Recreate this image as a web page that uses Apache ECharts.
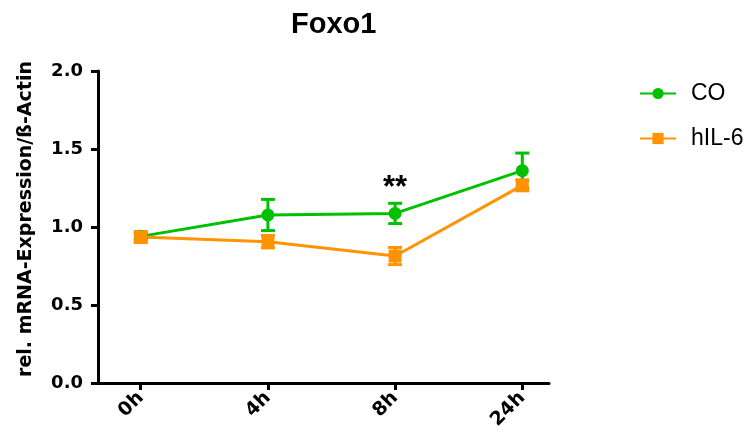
<!DOCTYPE html>
<html>
<head>
<meta charset="utf-8">
<script src="https://cdn.jsdelivr.net/npm/echarts@6/dist/echarts.min.js"></script>
<style>
  html, body { margin: 0; padding: 0; background: #fff; }
  #chart { width: 747px; height: 441px; }
</style>
</head>
<body>
<div id="chart"></div>
<script>
// Foxo1 expression time course (mean ± SEM)
const categories = ['0h', '4h', '8h', '24h'];
const coMean = [0.94, 1.077, 1.087, 1.361];
const coSem = [0.02, 0.10, 0.065, 0.113];
const il6Mean = [0.936, 0.906, 0.814, 1.267];
const il6Sem = [0.035, 0.04, 0.055, 0.035];
const yTicks = [0, 0.5, 1.0, 1.5, 2.0];
const significance = [{ index: 2, text: '**' }];

const GREEN = '#00c000';
const ORANGE = '#ff9400';
const TITLE_FONT = "Arial, 'Liberation Sans', Helvetica, sans-serif";
const AXIS_FONT = "'DejaVu Sans', Verdana, sans-serif";

const positions = categories.map((c, i) => i);

function points(means) {
  return means.map((m, i) => [positions[i], m]);
}
function bars(means, sems) {
  return means.map((m, i) => [positions[i], m - sems[i], m + sems[i]]);
}

function errorBarSeries(name, data, color) {
  return {
    type: 'custom',
    name: name,
    data: data,
    silent: true,
    renderItem: function (params, api) {
      const x = api.value(0);
      const lo = api.coord([x, api.value(1)]);
      const hi = api.coord([x, api.value(2)]);
      const half = 7;
      const style = { stroke: color, lineWidth: 3 };
      return {
        type: 'group',
        children: [
          { type: 'line', shape: { x1: hi[0], y1: hi[1], x2: lo[0], y2: lo[1] }, style: style },
          { type: 'line', shape: { x1: hi[0] - half, y1: hi[1], x2: hi[0] + half, y2: hi[1] }, style: style },
          { type: 'line', shape: { x1: lo[0] - half, y1: lo[1], x2: lo[0] + half, y2: lo[1] }, style: style }
        ]
      };
    }
  };
}

const chart = echarts.init(document.getElementById('chart'));
chart.setOption({
  animation: false,
  backgroundColor: '#ffffff',
  title: {
    text: 'Foxo1',
    left: 286,
    top: 5,
    textStyle: { fontFamily: TITLE_FONT, fontSize: 29, fontWeight: 'bold', color: '#000' }
  },
  legend: {
    data: ['CO', 'hIL-6'],
    orient: 'vertical',
    left: 634,
    top: 77,
    itemWidth: 36,
    itemHeight: 14,
    itemGap: 22,
    textStyle: { fontFamily: TITLE_FONT, fontSize: 23, color: '#000', padding: [0, 0, 0, 10] }
  },
  grid: { left: 98, right: 198, top: 71, bottom: 58, containLabel: false },
  xAxis: {
    type: 'value',
    min: -0.336,
    max: 3.21,
    splitLine: { show: false },
    axisLine: { show: true, onZero: false, lineStyle: { color: '#000', width: 3 } },
    axisTick: { show: true, customValues: positions, length: 7, lineStyle: { color: '#000', width: 3 } },
    axisLabel: {
      customValues: positions,
      formatter: v => categories[Math.round(v)],
      rotate: 45,
      margin: 12,
      fontFamily: AXIS_FONT,
      fontSize: 19,
      fontWeight: 'bold',
      color: '#000'
    }
  },
  yAxis: {
    type: 'value',
    min: yTicks[0],
    max: yTicks[yTicks.length - 1],
    interval: 0.5,
    name: 'rel. mRNA-Expression/ß-Actin',
    nameLocation: 'middle',
    nameGap: 62,
    nameTextStyle: {
      fontFamily: AXIS_FONT, fontSize: 19, fontWeight: 'bold', color: '#000',
      padding: [0, 0, 0, 16]
    },
    splitLine: { show: false },
    axisLine: { show: true, onZero: false, lineStyle: { color: '#000', width: 3 } },
    axisTick: { show: true, length: 7, lineStyle: { color: '#000', width: 3 } },
    axisLabel: {
      formatter: v => v.toFixed(1),
      margin: 15,
      fontFamily: AXIS_FONT,
      fontSize: 18,
      fontWeight: 'bold',
      color: '#000'
    }
  },
  series: [
    errorBarSeries('CO error', bars(coMean, coSem), GREEN),
    {
      type: 'line',
      name: 'CO',
      data: points(coMean),
      symbol: 'circle',
      symbolSize: 13,
      lineStyle: { color: GREEN, width: 3 },
      itemStyle: { color: GREEN }
    },
    {
      // significance marks above the CO error bar
      type: 'custom',
      name: 'significance',
      silent: true,
      data: significance.map(s => [positions[s.index], coMean[s.index] + coSem[s.index]]),
      renderItem: function (params, api) {
        const p = api.coord([api.value(0), api.value(1)]);
        return {
          type: 'text',
          x: p[0],
          y: p[1] + 1,
          style: {
            text: significance[params.dataIndex].text,
            fill: '#000',
            font: 'bold 31px ' + TITLE_FONT,
            align: 'center',
            verticalAlign: 'bottom'
          }
        };
      }
    },
    errorBarSeries('hIL-6 error', bars(il6Mean, il6Sem), ORANGE),
    {
      type: 'line',
      name: 'hIL-6',
      data: points(il6Mean),
      symbol: 'rect',
      symbolSize: 13,
      lineStyle: { color: ORANGE, width: 3 },
      itemStyle: { color: ORANGE }
    }
  ]
});
</script>
</body>
</html>
